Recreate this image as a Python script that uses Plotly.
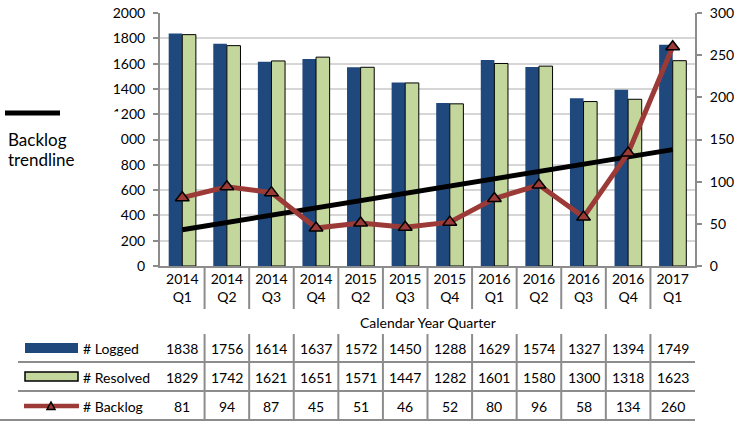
import plotly.graph_objects as go

# ---------------- data ----------------
quarters = ["2014 Q1", "2014 Q2", "2014 Q3", "2014 Q4", "2015 Q2", "2015 Q3",
            "2015 Q4", "2016 Q1", "2016 Q2", "2016 Q3", "2016 Q4", "2017 Q1"]
tick_labels = ["2014<br>Q1", "2014<br>Q2", "2014<br>Q3", "2014<br>Q4", "2015<br>Q2",
               "2015<br>Q3", "2015<br>Q4", "2016<br>Q1", "2016<br>Q2", "2016<br>Q3",
               "2016<br>Q4", "2017<br>Q1"]
logged = [1838, 1756, 1614, 1637, 1572, 1450, 1288, 1629, 1574, 1327, 1394, 1749]
resolved = [1829, 1742, 1621, 1651, 1571, 1447, 1282, 1601, 1580, 1300, 1318, 1623]
backlog = [81, 94, 87, 45, 51, 46, 52, 80, 96, 58, 134, 260]
trend_x = [quarters[0], quarters[-1]]
trend_y = [43, 138]
row_names = ["# Logged", "# Resolved", "# Backlog"]

# ---------------- style ----------------
W, H = 734, 421
PL, PR, PT, PB = 160, 695, 13, 266   # plot-area pixel box
FONT = "Lato, 'Open Sans', sans-serif"
BLUE = "#1F497D"
GREEN = "#C3D69B"
RED = "#9B3A36"
AXIS = "#8C8C8C"
GRID = "#D6D6D6"


def px_x(p):
    return (p - PL) / (PR - PL)


def px_y(p):
    return (PB - p) / (PB - PT)


fig = go.Figure()
fig.add_trace(go.Bar(x=quarters, y=logged, name="# Logged",
                     marker=dict(color=BLUE, line=dict(width=0))))
fig.add_trace(go.Bar(x=quarters, y=resolved, name="# Resolved",
                     marker=dict(color=GREEN, line=dict(color="black", width=1))))
fig.add_trace(go.Scatter(x=trend_x, y=trend_y, yaxis="y2", mode="lines",
                         line=dict(color="black", width=5), name="Backlog trendline"))
fig.add_trace(go.Scatter(x=quarters, y=backlog, yaxis="y2", mode="lines+markers",
                         line=dict(color=RED, width=5),
                         marker=dict(symbol="triangle-up", size=12, color=RED,
                                     line=dict(color="black", width=1.5)),
                         name="# Backlog"))

shapes = []
annotations = []

# category separators under the axis and table column lines
for i in range(len(quarters) - 1):
    shapes.append(dict(type="line", xref="x", yref="paper",
                       x0=i + 0.5, x1=i + 0.5, y0=px_y(PB), y1=px_y(309),
                       line=dict(color=AXIS, width=2)))
    shapes.append(dict(type="line", xref="x", yref="paper",
                       x0=i + 0.5, x1=i + 0.5, y0=px_y(334), y1=px_y(420),
                       line=dict(color=AXIS, width=2)))

# table row lines
for yy, x_start in [(362, 18), (391, 18), (420, 0)]:
    shapes.append(dict(type="line", xref="paper", yref="paper",
                       x0=px_x(x_start), x1=px_x(PR), y0=px_y(yy), y1=px_y(yy),
                       line=dict(color=AXIS, width=2)))

# legend keys in the table
shapes.append(dict(type="rect", xref="paper", yref="paper",
                   x0=px_x(25), x1=px_x(78), y0=px_y(343), y1=px_y(353),
                   fillcolor=BLUE, line=dict(width=0)))
shapes.append(dict(type="rect", xref="paper", yref="paper",
                   x0=px_x(25), x1=px_x(78), y0=px_y(372), y1=px_y(381),
                   fillcolor=GREEN, line=dict(color="black", width=1.5)))
shapes.append(dict(type="line", xref="paper", yref="paper",
                   x0=px_x(24), x1=px_x(79), y0=px_y(406), y1=px_y(406),
                   line=dict(color=RED, width=4.5)))
tx, ty = 51, 406
shapes.append(dict(type="path", xref="paper", yref="paper",
                   path=(f"M {px_x(tx-4)},{px_y(ty+3.5)} L {px_x(tx+4)},{px_y(ty+3.5)} "
                         f"L {px_x(tx)},{px_y(ty-4)} Z"),
                   fillcolor=RED, line=dict(color="black", width=1.5)))

# box of the trendline label (covers part of the left tick labels, as in the original)
shapes.append(dict(type="rect", xref="paper", yref="paper", layer="above",
                   x0=px_x(0), x1=px_x(120.5), y0=px_y(111.5), y1=px_y(168),
                   fillcolor="white", line=dict(width=0)))
shapes.append(dict(type="line", xref="paper", yref="paper", layer="above",
                   x0=px_x(5), x1=px_x(60), y0=px_y(113), y1=px_y(113),
                   line=dict(color="black", width=5)))

annotations.append(dict(text="Backlog", xref="paper", yref="paper", x=px_x(6), y=px_y(139),
                        xanchor="left", yanchor="middle", showarrow=False,
                        font=dict(family=FONT, size=17, color="black")))
annotations.append(dict(text="trendline", xref="paper", yref="paper", x=px_x(6), y=px_y(159),
                        xanchor="left", yanchor="middle", showarrow=False,
                        font=dict(family=FONT, size=17, color="black")))

annotations.append(dict(text="Calendar Year Quarter", xref="paper", yref="paper",
                        x=0.5, y=px_y(322), xanchor="center", yanchor="middle",
                        showarrow=False, font=dict(family=FONT, size=14, color="black")))

rows = [logged, resolved, backlog]
row_y = [348, 377, 406]
for name, vals, yy in zip(row_names, rows, row_y):
    annotations.append(dict(text=name, xref="paper", yref="paper", x=px_x(81), y=px_y(yy),
                            xanchor="left", yanchor="middle", showarrow=False,
                            font=dict(family=FONT, size=14, color="black")))
    for q, v in zip(quarters, vals):
        annotations.append(dict(text=str(v), xref="x", yref="paper", x=q, y=px_y(yy),
                                xanchor="center", yanchor="middle", showarrow=False,
                                font=dict(family=FONT, size=14, color="black")))

axis_font = dict(family=FONT, size=14, color="black")
fig.update_layout(
    width=W, height=H,
    margin=dict(l=PL, r=W - PR, t=PT, b=H - PB, pad=0, autoexpand=False),
    paper_bgcolor="white", plot_bgcolor="white",
    showlegend=False,
    barmode="group", bargap=0.39, bargroupgap=0,
    font=axis_font,
    xaxis=dict(type="category", categoryorder="array", categoryarray=quarters,
               tickvals=quarters, ticktext=tick_labels, ticks="",
               showline=True, linecolor=AXIS, linewidth=2, showgrid=False,
               tickfont=axis_font, range=[-0.5, len(quarters) - 0.5],
               automargin=False, ticklabelstandoff=-1),
    yaxis=dict(range=[0, 2000], dtick=200, ticks="outside", ticklen=5, tickwidth=2,
               tickcolor=AXIS, showline=True, linecolor=AXIS, linewidth=2,
               showgrid=True, gridcolor=GRID, gridwidth=1.5, zeroline=False,
               tickfont=axis_font, automargin=False, ticklabelstandoff=5),
    yaxis2=dict(range=[0, 300], dtick=50, overlaying="y", side="right",
                ticks="outside", ticklen=5, tickwidth=2, tickcolor=AXIS,
                showline=True, linecolor=AXIS, linewidth=2, showgrid=False,
                zeroline=False, tickfont=axis_font, automargin=False,
                ticklabelstandoff=5),
    shapes=shapes, annotations=annotations,
)

fig.write_html("out.html", config={"displayModeBar": False},
               post_script="document.body.style.margin='0';")
